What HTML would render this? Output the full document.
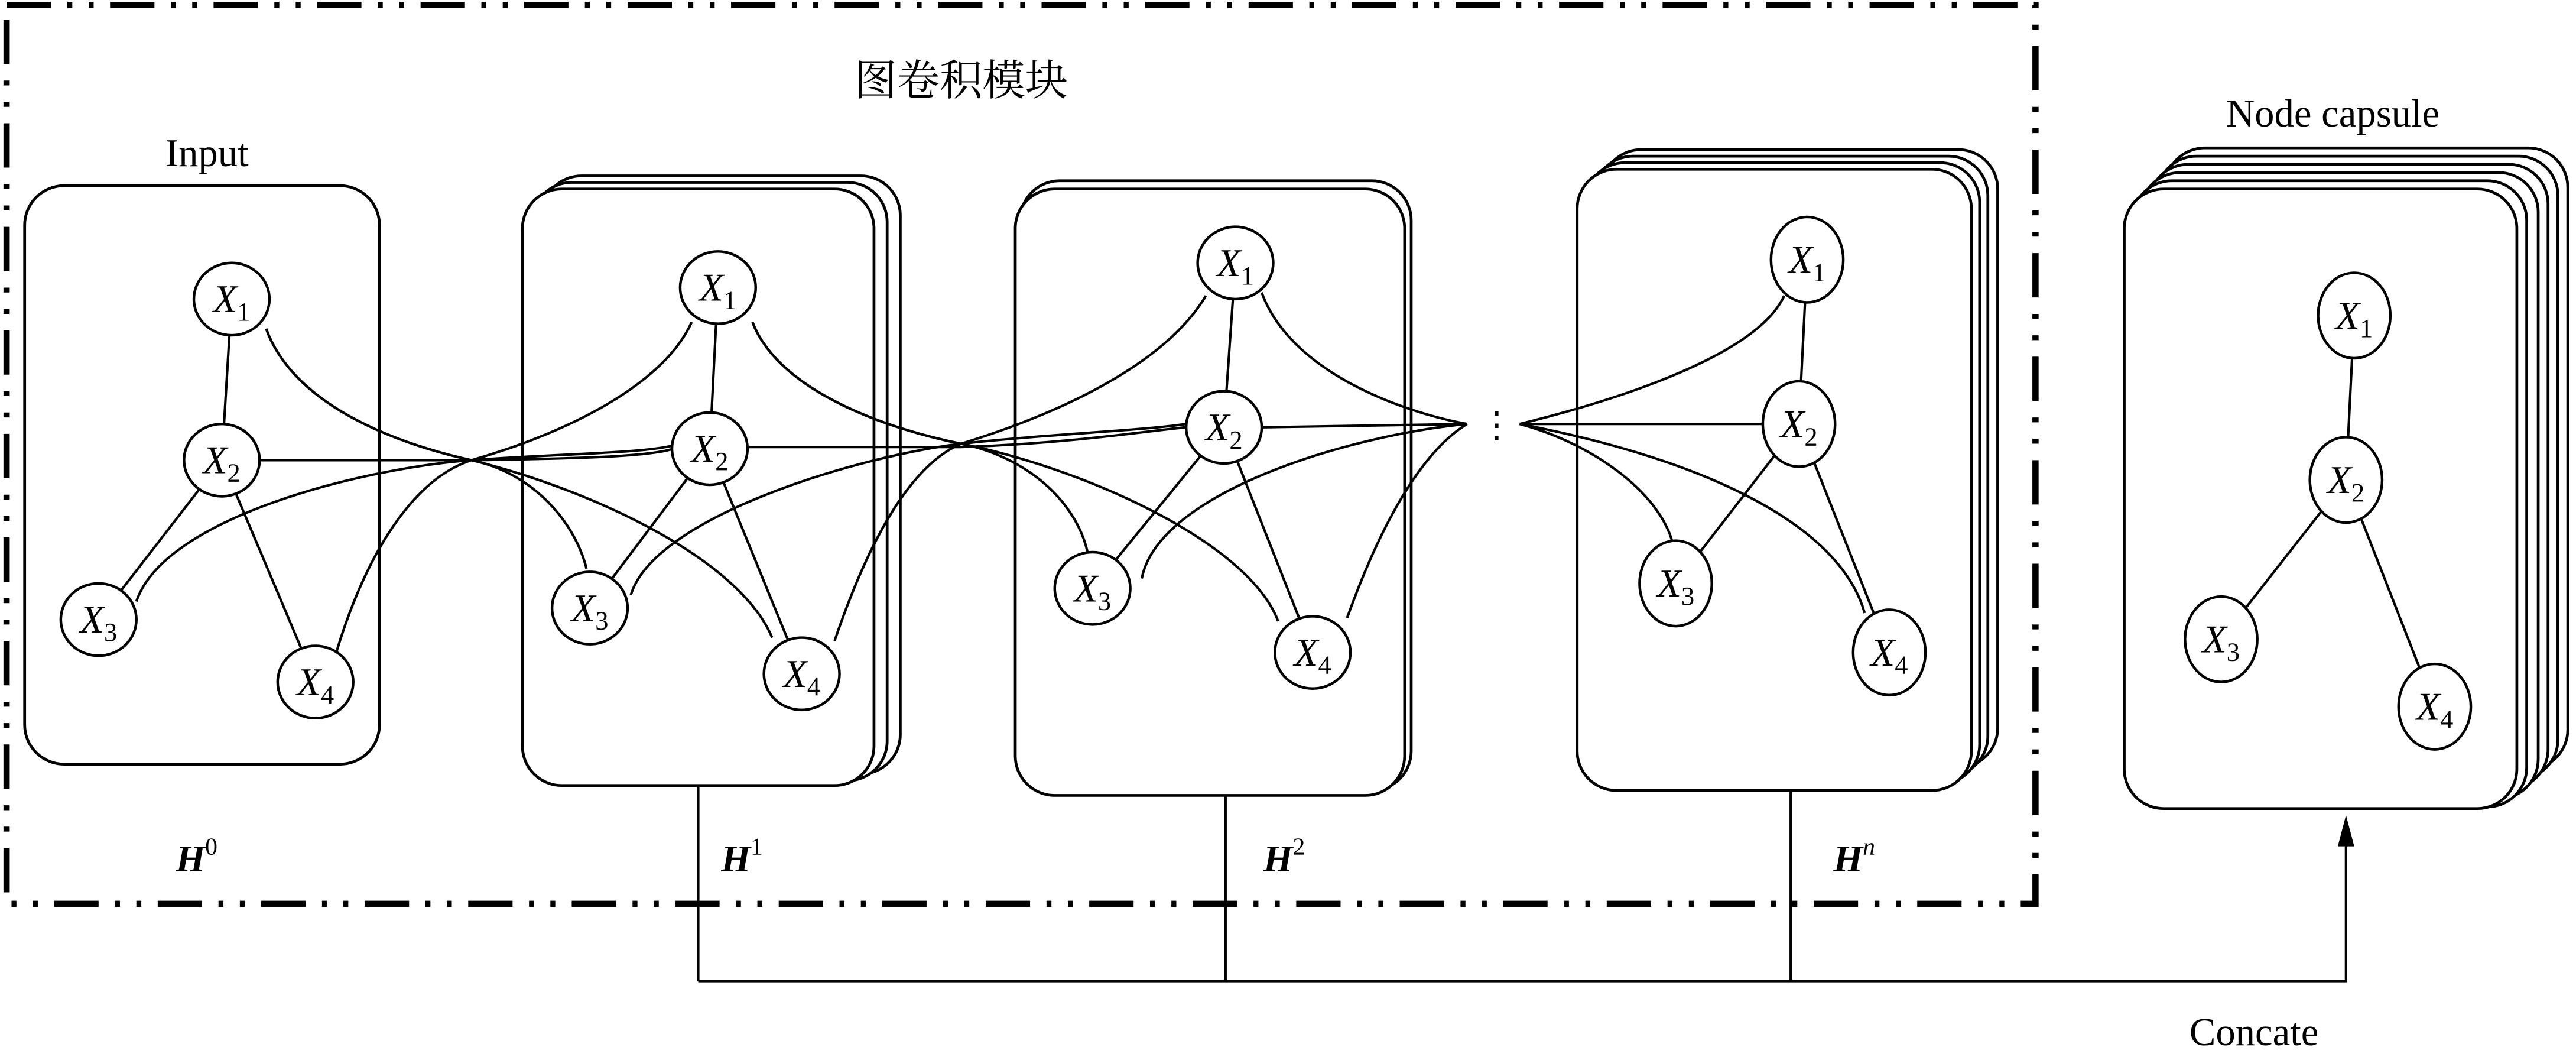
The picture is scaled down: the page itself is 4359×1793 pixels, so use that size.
<!DOCTYPE html>
<html><head><meta charset="utf-8"><style>
html,body{margin:0;padding:0;background:#fff;}
svg{display:block;}
.n{fill:#fff;stroke:#000;stroke-width:1.6;}
.b{fill:#fff;stroke:#000;stroke-width:1.7;}
.e{fill:none;stroke:#000;stroke-width:1.5;}
.t{font-family:"Liberation Serif",serif;font-style:italic;font-size:24px;}
.s{font-style:normal;font-size:16px;}
.l{font-family:"Liberation Serif",serif;font-size:24px;}
.h{font-family:"Liberation Serif",serif;font-size:23px;font-weight:bold;font-style:italic;}
</style></head><body>
<svg width="4359" height="1793" viewBox="0 0 1568 645" preserveAspectRatio="none" xmlns="http://www.w3.org/2000/svg">
<rect x="4" y="3" width="1235" height="547" fill="none" stroke="#000" stroke-width="3.8" stroke-dasharray="27 10 3 10 3 10"/>
<text x="585" y="58" text-anchor="middle" font-family="'Liberation Serif','Noto Serif CJK SC','Noto Sans CJK SC',serif" font-size="26">图卷积模块</text>
<text x="126" y="101" text-anchor="middle" class="l">Input</text>
<text x="1420" y="77" text-anchor="middle" class="l">Node capsule</text>
<text x="1372" y="636" text-anchor="middle" class="l">Concate</text>

<rect class="b" x="15" y="113" width="216" height="352" rx="24"/>
<rect class="b" x="330" y="107" width="218" height="364" rx="24"/>
<rect class="b" x="324" y="111" width="216" height="364" rx="24"/>
<rect class="b" x="318" y="115" width="214" height="363" rx="24"/>
<rect class="b" x="621" y="110" width="238" height="371" rx="24"/>
<rect class="b" x="618" y="115" width="237" height="369" rx="24"/>
<rect class="b" x="975" y="91" width="241" height="376" rx="24"/>
<rect class="b" x="970" y="95" width="240" height="377" rx="24"/>
<rect class="b" x="965" y="99" width="240" height="378" rx="24"/>
<rect class="b" x="960" y="103" width="240" height="378" rx="24"/>
<rect class="b" x="1318" y="90" width="245" height="378" rx="24"/>
<rect class="b" x="1313" y="95" width="244" height="379" rx="24"/>
<rect class="b" x="1308" y="100" width="243" height="380" rx="24"/>
<rect class="b" x="1303" y="105" width="242" height="381" rx="24"/>
<rect class="b" x="1298" y="110" width="240" height="381" rx="24"/>
<rect class="b" x="1293" y="115" width="239" height="377" rx="24"/>

<g class="e">
<line x1="141" y1="182" x2="135" y2="280"/><line x1="135" y1="280" x2="60" y2="377"/><line x1="135" y1="280" x2="192" y2="415"/>
<line x1="437" y1="175" x2="432" y2="273"/><line x1="432" y1="273" x2="359" y2="370"/><line x1="432" y1="273" x2="488" y2="410"/>
<line x1="752" y1="160" x2="745" y2="260"/><line x1="745" y1="260" x2="665" y2="358"/><line x1="745" y1="260" x2="799" y2="397"/>
<line x1="1100" y1="158" x2="1095" y2="258"/><line x1="1095" y1="258" x2="1020" y2="355"/><line x1="1095" y1="258" x2="1150" y2="397"/>
<line x1="1433" y1="192" x2="1428" y2="292"/><line x1="1428" y1="292" x2="1352" y2="389"/><line x1="1428" y1="292" x2="1482" y2="430"/>
<path d="M162,200 C180,250 250,272 287,280 C325,288 350,318 357,346"/>
<path d="M162,200 C180,250 250,272 287,280 C360,298 450,340 470,388"/>
<path d="M159,280 L290,280 C350,279 395,278 410,273"/>
<path d="M83,366 C100,315 220,285 287,280 C340,276 390,276 410,271"/>
<path d="M205,396 C222,340 250,292 287,280 C350,262 405,232 421,196"/>
<path d="M458,196 C475,240 545,262 585,270 C625,278 655,305 662,336"/>
<path d="M458,196 C475,240 545,262 585,270 C660,285 760,330 778,378"/>
<path d="M456,272 L585,272 C650,270 700,262 722,260"/>
<path d="M384,362 C398,315 520,278 585,270 C640,264 695,262 722,258"/>
<path d="M508,390 C525,340 550,285 585,270 C650,250 710,220 734,180"/>
<path d="M768,178 C785,225 850,250 893,258"/>
<path d="M769,260 L893,258"/>
<path d="M695,352 C705,300 820,265 893,258"/>
<path d="M820,376 C840,320 865,275 893,258"/>
<path d="M925,258 C990,242 1070,215 1086,180"/>
<path d="M925,258 L1073,258"/>
<path d="M925,258 C970,270 1010,300 1018,330"/>
<path d="M925,258 C1040,280 1120,320 1135,373"/>
</g>
<text x="911" y="266" text-anchor="middle" font-family="'Liberation Serif',serif" font-size="22">⋮</text>

<g>
<ellipse class="n" cx="141" cy="182" rx="23" ry="22"/><ellipse class="n" cx="135" cy="280" rx="23" ry="22"/><ellipse class="n" cx="60" cy="377" rx="23" ry="22"/><ellipse class="n" cx="192" cy="415" rx="23" ry="22"/>
<ellipse class="n" cx="437" cy="175" rx="23" ry="22"/><ellipse class="n" cx="432" cy="273" rx="23" ry="22"/><ellipse class="n" cx="359" cy="370" rx="23" ry="22"/><ellipse class="n" cx="488" cy="410" rx="23" ry="22"/>
<ellipse class="n" cx="752" cy="160" rx="23" ry="22"/><ellipse class="n" cx="745" cy="260" rx="23" ry="22"/><ellipse class="n" cx="665" cy="358" rx="23" ry="22"/><ellipse class="n" cx="799" cy="397" rx="23" ry="22"/>
<ellipse class="n" cx="1100" cy="158" rx="22" ry="26"/><ellipse class="n" cx="1095" cy="258" rx="22" ry="26"/><ellipse class="n" cx="1020" cy="355" rx="22" ry="26"/><ellipse class="n" cx="1150" cy="397" rx="22" ry="26"/>
<ellipse class="n" cx="1433" cy="192" rx="22" ry="26"/><ellipse class="n" cx="1428" cy="292" rx="22" ry="26"/><ellipse class="n" cx="1352" cy="389" rx="22" ry="26"/><ellipse class="n" cx="1482" cy="430" rx="22" ry="26"/>
</g>
<g class="t" text-anchor="middle">
<text x="141" y="190">X<tspan class="s" dy="5">1</tspan></text>
<text x="135" y="288">X<tspan class="s" dy="5">2</tspan></text>
<text x="60" y="385">X<tspan class="s" dy="5">3</tspan></text>
<text x="192" y="423">X<tspan class="s" dy="5">4</tspan></text>
<text x="437" y="183">X<tspan class="s" dy="5">1</tspan></text>
<text x="432" y="281">X<tspan class="s" dy="5">2</tspan></text>
<text x="359" y="378">X<tspan class="s" dy="5">3</tspan></text>
<text x="488" y="418">X<tspan class="s" dy="5">4</tspan></text>
<text x="752" y="168">X<tspan class="s" dy="5">1</tspan></text>
<text x="745" y="268">X<tspan class="s" dy="5">2</tspan></text>
<text x="665" y="366">X<tspan class="s" dy="5">3</tspan></text>
<text x="799" y="405">X<tspan class="s" dy="5">4</tspan></text>
<text x="1100" y="166">X<tspan class="s" dy="5">1</tspan></text>
<text x="1095" y="266">X<tspan class="s" dy="5">2</tspan></text>
<text x="1020" y="363">X<tspan class="s" dy="5">3</tspan></text>
<text x="1150" y="405">X<tspan class="s" dy="5">4</tspan></text>
<text x="1433" y="200">X<tspan class="s" dy="5">1</tspan></text>
<text x="1428" y="300">X<tspan class="s" dy="5">2</tspan></text>
<text x="1352" y="397">X<tspan class="s" dy="5">3</tspan></text>
<text x="1482" y="438">X<tspan class="s" dy="5">4</tspan></text>
</g>

<text class="h" x="107" y="530">H<tspan font-weight="normal" font-style="normal" font-size="15" dy="-10">0</tspan></text>
<text class="h" x="439" y="530">H<tspan font-weight="normal" font-style="normal" font-size="15" dy="-10">1</tspan></text>
<text class="h" x="769" y="530">H<tspan font-weight="normal" font-style="normal" font-size="15" dy="-10">2</tspan></text>
<text class="h" x="1116" y="530">H<tspan font-weight="normal" font-style="italic" font-size="15" dy="-10">n</tspan></text>

<g class="e">
<line x1="425" y1="478" x2="425" y2="597"/>
<line x1="746" y1="484" x2="746" y2="597"/>
<line x1="1090" y1="481" x2="1090" y2="597"/>
<polyline points="425,597 1428,597 1428,512"/>
</g>
<polygon points="1428,496 1423,515 1433,515" fill="#000"/>
</svg>
</body></html>
